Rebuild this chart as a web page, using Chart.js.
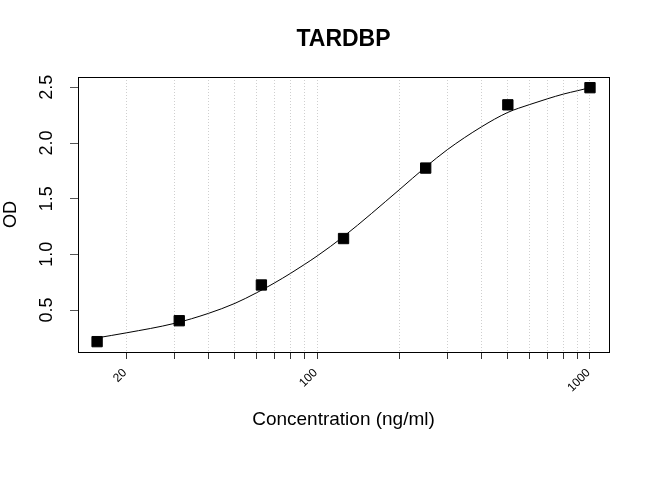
<!DOCTYPE html>
<html>
<head>
<meta charset="utf-8">
<title>TARDBP</title>
<script src="https://cdn.jsdelivr.net/npm/chart.js@4.4.0/dist/chart.umd.min.js"></script>
<style>
    html, body { margin: 0; padding: 0; background: #ffffff; }
    #chartCanvasId { display: block; }
</style>
</head>
<body>
<canvas id="chartCanvasId" width="650" height="488"></canvas>
<script>
// standard points (ng/ml -> OD)
const concentrations = [15.625, 31.25, 62.5, 125, 250, 500, 1000];
const odValues = [0.216, 0.404, 0.725, 1.142, 1.775, 2.343, 2.497];

// fitted curve
const curveConcentrations = [15.625, 20, 30, 40, 50, 60, 70, 80, 90, 100, 125, 200, 250, 300, 400, 500, 600, 700, 800, 900, 1000];
const curveOd = [0.25, 0.295, 0.38, 0.47, 0.56, 0.655, 0.745, 0.83, 0.91, 0.985, 1.16, 1.58, 1.785, 1.94, 2.145, 2.275, 2.345, 2.398, 2.44, 2.47, 2.497];

const xTickValues = [20, 30, 40, 50, 60, 70, 80, 90, 100, 200, 300, 400, 500, 600, 700, 800, 900, 1000];
const xTickLabels = ["20", "100", "1000"];
const yTickValues = [0.5, 1.0, 1.5, 2.0, 2.5];
const yTickLabels = ["0.5", "1.0", "1.5", "2.0", "2.5"];

const chartTitle = "TARDBP";
const xTitle = "Concentration (ng/ml)";
const yTitle = "OD";

const fontName = "'Liberation Sans', Arial, sans-serif";

let chartCanvas;

window.addEventListener("DOMContentLoaded", init);


// R style texts and the box round the plot
const rTextPlugin = {
    id: "rText",
    afterDraw(chart) {
        const ctx = chart.ctx;
        const area = chart.chartArea;
        const xScale = chart.scales.x;
        const yScale = chart.scales.y;
        const midX = (area.left + area.right) / 2;
        const midY = (area.top + area.bottom) / 2;

        ctx.save();
        ctx.strokeStyle = "#000000";
        ctx.lineWidth = 1;
        ctx.strokeRect(area.left + 0.5, area.top + 0.5, area.right - area.left, area.bottom - area.top);

        ctx.fillStyle = "#000000";
        ctx.textAlign = "center";
        ctx.textBaseline = "middle";

        ctx.font = "bold 23px " + fontName;
        ctx.fillText(chartTitle, midX, 40);

        ctx.font = "19px " + fontName;
        ctx.fillText(xTitle, midX, 420);

        ctx.save();
        ctx.translate(11, midY);
        ctx.rotate(-Math.PI / 2);
        ctx.font = "18px " + fontName;
        ctx.fillText(yTitle, 0, 0);
        ctx.restore();

        ctx.font = "18px " + fontName;
        yTickValues.forEach((v, i) => {
            ctx.save();
            ctx.translate(47.5, yScale.getPixelForValue(v));
            ctx.rotate(-Math.PI / 2);
            ctx.fillText(yTickLabels[i], 0, 0);
            ctx.restore();
        });

        ctx.font = "12px " + fontName;
        ctx.textAlign = "right";
        xTickLabels.forEach((lab) => {
            ctx.save();
            ctx.translate(xScale.getPixelForValue(Number(lab)) - 1.5, 371);
            ctx.rotate(-Math.PI / 4);
            ctx.fillText(lab, 0, 0);
            ctx.restore();
        });
        ctx.restore();
    }
};


function init() {

    chartCanvas = document.getElementById("chartCanvasId");

    const curvePoints = curveConcentrations.map((c, i) => ({ x: c, y: curveOd[i] }));
    const standardPoints = concentrations.map((c, i) => ({ x: c, y: odValues[i] }));

    new Chart(chartCanvas, {
        type: 'scatter',
        data: {
            datasets: [{
                type: 'line',
                label: 'fit',
                data: curvePoints,
                borderColor: '#000000',
                borderWidth: 1,
                pointRadius: 0,
                fill: false,
                cubicInterpolationMode: 'monotone'
            }, {
                label: 'standards',
                data: standardPoints,
                pointStyle: 'rect',
                pointRadius: 7.3,
                backgroundColor: '#000000',
                borderColor: '#000000',
                borderWidth: 1
            }]
        },
        options: {
            responsive: false,
            animation: false,
            devicePixelRatio: 1,
            layout: {
                padding: { left: 0, top: 77, right: 41, bottom: 0 }
            },
            plugins: {
                legend: { display: false },
                tooltip: { enabled: false },
                title: { display: false }
            },
            scales: {
                x: {
                    type: 'logarithmic',
                    min: 13.3,
                    max: 1174,
                    afterBuildTicks: (scale) => {
                        scale.ticks = xTickValues.map(v => ({ value: v }));
                    },
                    afterFit: (scale) => { scale.height = 136; },
                    ticks: { display: false },
                    grid: {
                        drawOnChartArea: true,
                        color: '#cfcfcf',
                        lineWidth: 1,
                        drawTicks: true,
                        tickLength: 7,
                        tickColor: '#333333',
                        tickWidth: 1
                    },
                    border: { display: false, dash: [1, 2] }
                },
                y: {
                    type: 'linear',
                    min: 0.123,
                    max: 2.593,
                    afterBuildTicks: (scale) => {
                        scale.ticks = yTickValues.map(v => ({ value: v }));
                    },
                    afterFit: (scale) => { scale.width = 78; },
                    ticks: { display: false },
                    grid: {
                        drawOnChartArea: false,
                        drawTicks: true,
                        tickLength: 8,
                        tickColor: '#555555',
                        tickWidth: 1
                    },
                    border: { display: false }
                }
            }
        },
        plugins: [rTextPlugin]
    });
}
</script>
</body>
</html>
